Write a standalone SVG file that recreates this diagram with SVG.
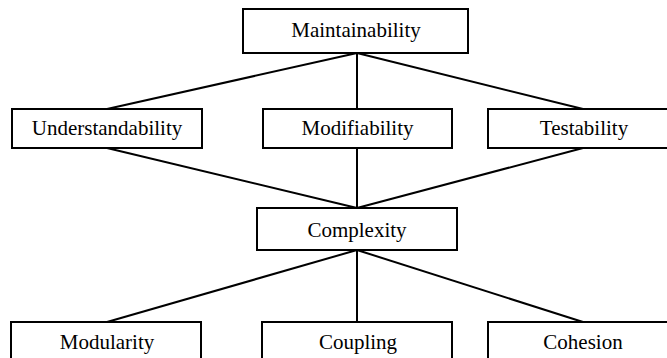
<svg xmlns="http://www.w3.org/2000/svg" width="667" height="358" viewBox="0 0 667 358">
  <style>
    .box { fill: #ffffff; stroke: #000000; stroke-width: 2; }
    .edge { stroke: #000000; stroke-width: 2; fill: none; }
    .label { font-family: "Liberation Serif", "Times New Roman", serif; font-size: 21px; fill: #000000; text-anchor: middle; }
  </style>
  <rect x="0" y="0" width="667" height="358" fill="#ffffff"/>

  <!-- connectors -->
  <g id="connectors">
    <line class="edge" x1="357" y1="53" x2="107" y2="109"/>
    <line class="edge" x1="357" y1="53" x2="357" y2="109"/>
    <line class="edge" x1="357" y1="53" x2="583" y2="109"/>
    <line class="edge" x1="107" y1="148" x2="357" y2="208"/>
    <line class="edge" x1="357" y1="148" x2="357" y2="208"/>
    <line class="edge" x1="583" y1="148" x2="357" y2="208"/>
    <line class="edge" x1="357" y1="250" x2="107" y2="322"/>
    <line class="edge" x1="357" y1="250" x2="357" y2="322"/>
    <line class="edge" x1="357" y1="250" x2="583" y2="322"/>
  </g>

  <g id="maintainability">
    <rect class="box" x="243" y="9" width="225" height="44"/>
    <text class="label" x="356" y="37">Maintainability</text>
  </g>

  <g id="understandability">
    <rect class="box" x="12" y="109" width="190" height="39"/>
    <text class="label" x="107" y="135">Understandability</text>
  </g>

  <g id="modifiability">
    <rect class="box" x="263" y="109" width="189" height="39"/>
    <text class="label" x="357.5" y="135">Modifiability</text>
  </g>

  <g id="testability">
    <rect class="box" x="488" y="109" width="195" height="39"/>
    <text class="label" x="584" y="135">Testability</text>
  </g>

  <g id="complexity">
    <rect class="box" x="257" y="208" width="200" height="42"/>
    <text class="label" x="357" y="237">Complexity</text>
  </g>

  <g id="modularity">
    <rect class="box" x="11" y="322" width="190" height="50"/>
    <text class="label" x="107" y="349">Modularity</text>
  </g>

  <g id="coupling">
    <rect class="box" x="262" y="322" width="190" height="50"/>
    <text class="label" x="358" y="349">Coupling</text>
  </g>

  <g id="cohesion">
    <rect class="box" x="488" y="322" width="195" height="50"/>
    <text class="label" x="583" y="349">Cohesion</text>
  </g>
</svg>
